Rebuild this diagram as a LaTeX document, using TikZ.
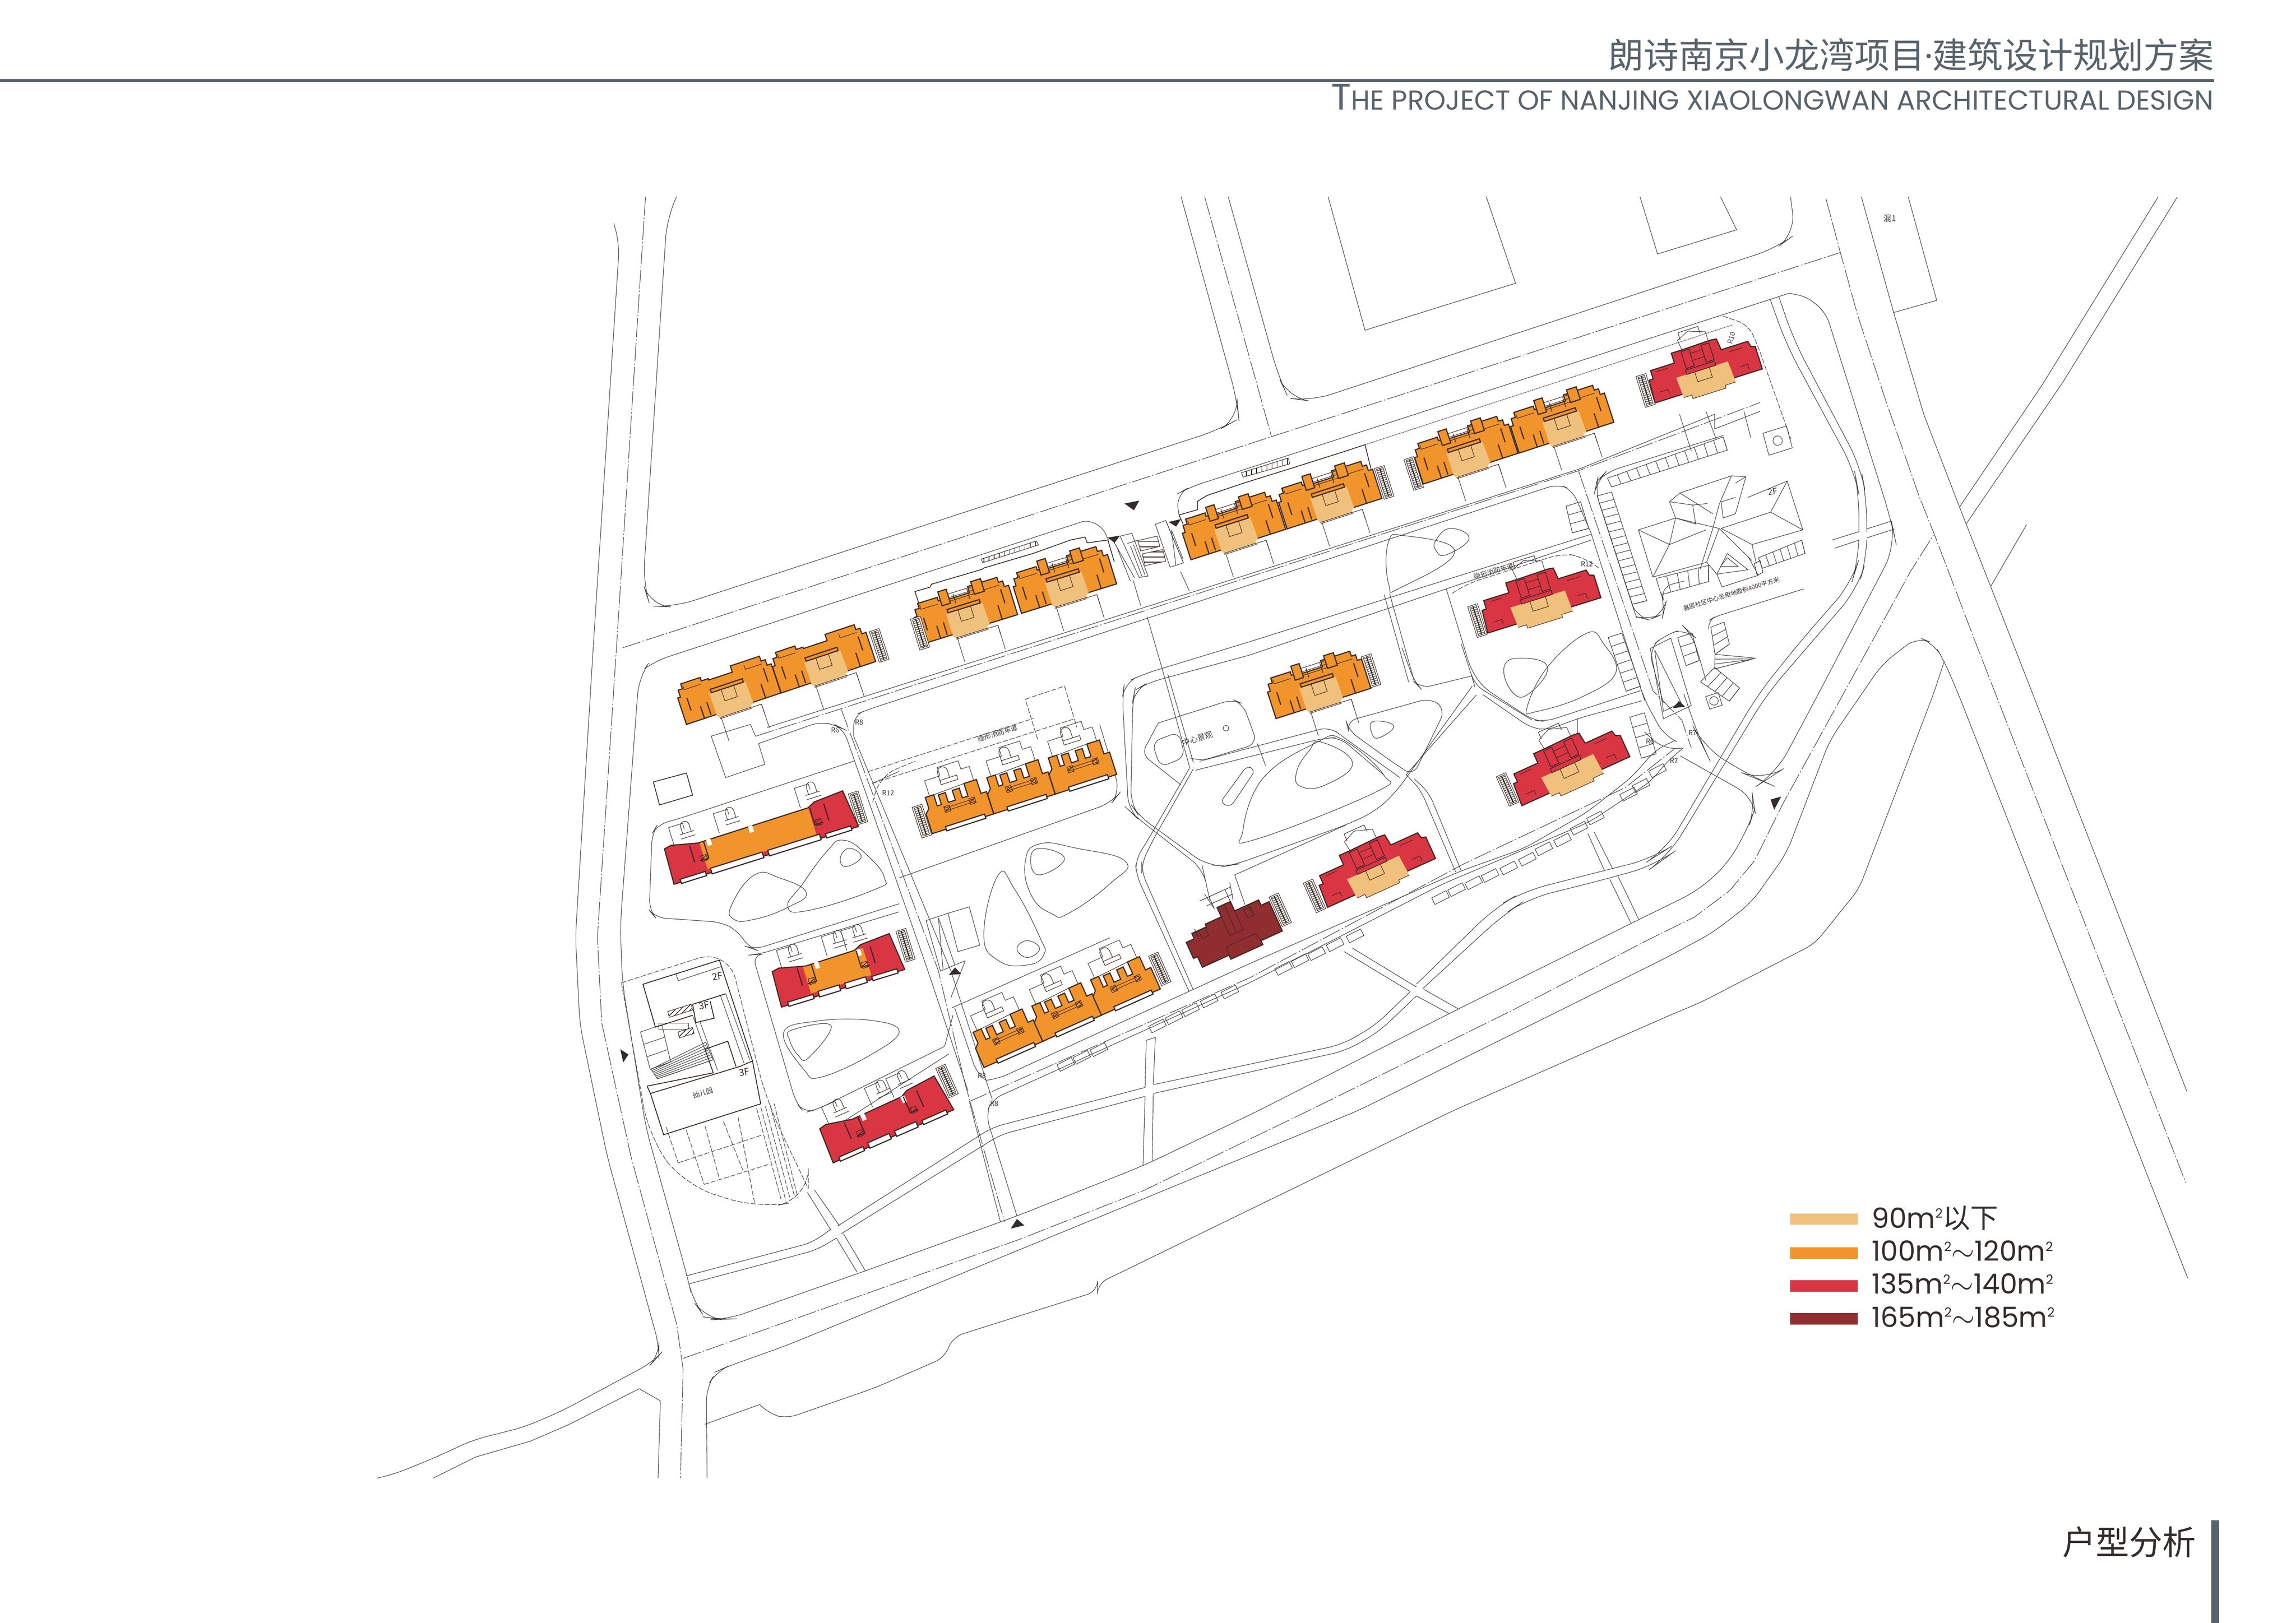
\documentclass[tikz,border=0pt]{standalone}
\usepackage{fontspec}
\setmainfont{Poppins}
\newfontfamily\cjk{Noto Sans CJK SC}
\usetikzlibrary{calc,patterns}

\definecolor{linecol}{HTML}{3C3C3C}
\definecolor{wallcol}{HTML}{3A2A22}
\definecolor{inkcol}{HTML}{332C2B}
\definecolor{slatecol}{HTML}{56636A}
\definecolor{lightflat}{HTML}{F0C17C}
\definecolor{orangeflat}{HTML}{F0942B}
\definecolor{redflat}{HTML}{D93543}
\definecolor{darkflat}{HTML}{8F2D31}

\newcommand{\sqm}{\raisebox{.36em}{\fontsize{7.5}{8}\selectfont 2}}

\tikzset{
  road/.style={draw=linecol,line width=.3pt},
  axis/.style={road,dash pattern=on 11pt off 1.2pt on .8pt off 1.2pt},
  fence/.style={road,dash pattern=on 3pt off 1pt},
  wall/.style={draw=wallcol,line width=.65pt},
  thinwall/.style={draw=wallcol,line width=.3pt},
  tag/.style={inner sep=0pt,text=inkcol,font=\cjk\fontsize{4}{4.5}\selectfont},
  arrowmark/.style={fill=inkcol,draw=none},
  bldg/.style args={#1,#2,#3}{shift={(#1,#2)},rotate=#3,yscale=-1},
  stairs/.pic={
    \draw[thinwall,fill=white] (0,0) rectangle (7,22);
    \draw[thinwall] (1.2,1) rectangle (3.3,21) (3.7,1) rectangle (5.8,21);
    \foreach \v in {2,3.5,...,20} \draw[thinwall] (1.2,\v)--(5.8,\v);
  },
  slotbox/.pic={
    \draw[road] (0,0) rectangle (11,5);
  },
  % the paired flat with the light centre bay
  flatunit/.pic={
    \draw[road] (24,-3)--(24,-20) (53,-3)--(53,-20);
    \draw[thinwall] (46,-3)--(53,-3)--(53,-10);
    \draw[wall,fill=orangeflat] (0,0)--(0,19)--(2,19)--(2,24)--(5,24)--(5,27.5)--(19,27.5)--(19,25)--(24,25)
      --(24,24)--(41,24)--(41,28.5)--(62,28.5)--(62,25)--(65,25)--(65,21)--(68,21)--(68,0)--cycle;
    \fill[lightflat] (21.5,15)--(47.5,15)--(48,-1)--(46,-1)--(46,-2.8)--(23,-2.8)--(21.6,-1)--cycle;
    \draw[thinwall] (23,-2.8)--(46,-2.8) (23,-3.6)--(46,-3.6);
    \draw[thinwall] (30,15)--(30,7)--(39,7)--(39,15);
    \draw[wall,fill=orangeflat] (23,15.2) rectangle (46,17.6);
    \draw[wall] (13,0)--(13,9) (57,0)--(57,10) (18,1)--(18,10) (6,8)--(6,17) (62,10)--(62,20);
    \draw[thinwall] (6,26)--(6,23)--(18,23) (50,26)--(50,23)--(62,23);
  },
  flattower/.pic={
    \draw[wall,fill=orangeflat] (20.5,21) rectangle (26.5,31);
    \draw[wall,fill=orangeflat] (44,22) rectangle (51,31);
    \draw[thinwall] (26.5,22.5)--(44,22.5) (26.5,25)--(44,25) (26.5,27.5)--(44,27.5);
    \draw[wall,line width=.4pt] (30,20)--(30,26.5) (40,20)--(40,27);
  },
  % three bay row with the teeth on the north side
  rowunit/.pic={
    \draw[road] (6,25)--(6,36)--(17,36)--(17,42)--(32,42)--(32,36)--(38,36)--(38,25);
    \draw[thinwall] (16,30) rectangle (28,33) (16,33)--(16,38) arc (180:0:3.5)--(23,33);
    \draw[wall,fill=orangeflat] (0,0)--(0,14)--(3,17)--(3,25)--(9,25)--(9,17)--(12,17)--(12,24)
      --(17,24)--(17,17)--(22,17)--(22,24)--(27,24)--(27,17)--(31,17)--(31,26)--(40,26)--(40,16)
      --(44,16)--(44,0)--cycle;
    \draw[thinwall] (9,25)--(31,26);
    \draw[thinwall] (14,12) rectangle (34,14);
    \draw[thinwall,pattern=north east lines,pattern color=wallcol] (13,11) rectangle (17,15) (31,11) rectangle (35,15);
    \draw[wall,fill=white] (10,-1.2) rectangle (38,1.8);
  },
  % broad plan with the light bay, drawn in red
  widered/.pic={
    \draw[wall,fill=redflat] (0,0)--(1,16)--(4,16)--(4,22)--(22,22)--(22,29)--(30,29)--(52,29.5)
      --(56,29)--(57,21)--(77,21)--(78,17)--(81,16)--(81,0)--cycle;
    \fill[lightflat] (20,12)--(59,12)--(60,-3)--(52,-3)--(52,-5)--(27,-5)--(27,-2.5)--(21,-2.5)--cycle;
    \draw[thinwall] (60,-3)--(52,-3)--(52,-5)--(27,-5)--(27,-2.5)--(21,-2.5);
    \draw[wall,line width=.4pt] (28,12) rectangle (50,15);
    \draw[thinwall] (34,12)--(34,5)--(45,5)--(45,12);
    \draw[wall,line width=.4pt] (29,16) rectangle (35,28) (44,16) rectangle (50,28);
    \draw[thinwall] (35,20)--(44,20) (35,25)--(44,25);
    \draw[thinwall] (8,20)--(16,20) (62,18)--(72,18) (6,6)--(12,6)--(12,3) (66,6)--(72,6)--(72,2);
    \draw[road] (30,29)--(29,36)--(38,40)--(50,36)--(50,29);
    \draw[thinwall] (31,36)--(31,41)--(46,41)--(46,36);
  },
  widedark/.pic={
    \draw[wall,fill=darkflat] (0,0)--(0,8)--(-3,8)--(-3,20)--(3,20)--(3,24)--(14,24)--(14,26)--(26,26)
      --(26,33)--(36,33)--(36,26)--(54,26)--(54,22)--(60,22)--(60,0)--(44,0)--(44,-3)--(20,-3)--(20,0)--cycle;
    \draw[thinwall] (20,1)--(21,6)--(42,6)--(44,1) (6,20)--(6,26) (46,20)--(46,26);
    \draw[thinwall] (26,12) rectangle (36,33) (31,12)--(31,33) (8,18) rectangle (13,24) (42,18) rectangle (47,24);
    \draw[road] (24,33)--(22,45) (38,33)--(41,45);
    \draw[thinwall] (20,37)--(40,37) (17,42)--(40,42) (24,33)--(24,42) (36,33)--(36,42);
  }
}

\newcommand{\parkrow}[5]{%
  \draw[road] (#1)--(#2)--(#3)--(#4)--cycle;
  \foreach \i in {1,...,#5} \draw[road] ($(#1)!\i/#5!(#2)$)--($(#4)!\i/#5!(#3)$);
}

% long slab: x, y, angle, length, start and end of the orange part
\newcommand{\slabblock}[6]{%
  \begin{scope}[bldg={#1,#2,#3}]
    \foreach \u in {14,46,{#4-28}} {
      \draw[road] (\u-6,24)--(\u-6,38)--(\u+4,38)--(\u+4,34);
      \draw[thinwall] (\u,28)--(\u+10,28) (\u,31)--(\u+10,31) (\u+2,31)--(\u+2,36) arc (180:0:3)--(\u+8,31);
    }
    \fill[redflat] (0,0)--(1,25)--(6,26)--(24,22)--({#4-29},22.5)--({#4-24},25)--({#4-3},26.5)--(#4,0)--cycle;
    \ifdim #6pt>#5pt \fill[orangeflat] (#5,3) rectangle (#6,22.4); \fi
    \draw[wall] (0,0)--(1,25)--(6,26)--(24,22)--({#4-29},22.5)--({#4-24},25)--({#4-3},26.5)--(#4,0)--cycle;
    \draw[wall,fill=white] (5,-1) rectangle (23,2) (27,-1) rectangle ({#4/2-2},3) ({#4/2+2},-1) rectangle ({#4-27},3) ({#4-23},-1) rectangle ({#4-5},2);
    \fill[white] (30,18) rectangle (33,22.5) (60,18) rectangle (63,22.5);
    \draw[wall] (18,10)--(18,22) (22,10)--(28,10)--(28,22) ({#4-18},10)--({#4-18},22) ({#4-22},10)--({#4-28},10)--({#4-28},22);
    \draw[thinwall,pattern=north east lines,pattern color=wallcol] (23,9) rectangle (27,13) ({#4-27},9) rectangle ({#4-23},13);
  \end{scope}
}

\begin{document}
\begin{tikzpicture}[x=0.3mm,y=-0.3mm]
  \useasboundingbox (0,0) rectangle (1568,1108.7);

  % header and page mark
  \fill[slatecol] (0,54) rectangle (1512,55.8);
  \node[anchor=base east,inner sep=0pt,text=slatecol,font=\cjk\fontsize{20.5}{21}\selectfont] (titlecn) at (1512,46.5) {朗诗南京小龙湾项目{\rmfamily ·}建筑设计规划方案};
  \node[anchor=base east,inner sep=0pt,text=slatecol,font=\fontsize{16}{16}\selectfont] (titleen) at (1512,75) {{\fontsize{21.5}{16}\selectfont T}HE PROJECT OF NANJING XIAOLONGWAN ARCHITECTURAL DESIGN};
  \fill[slatecol] (1510,1038.5) rectangle (1515.5,1108.7);
  \node[anchor=base east,inner sep=0pt,text=inkcol,font=\cjk\fontsize{19.5}{20}\selectfont] (pagename) at (1500,1062) {户型分析};

  % legend
  \fill[lightflat] (1222.4,829) rectangle (1268.8,836.5);
  \fill[orangeflat] (1222.4,852) rectangle (1268.8,860);
  \fill[redflat] (1222.4,874.5) rectangle (1268.8,882.5);
  \fill[darkflat] (1222.4,897) rectangle (1268.8,905);
  \tikzset{legendtext/.style={anchor=base west,inner sep=0pt,text=inkcol,font=\fontsize{16.2}{16}\selectfont}}
  \node[legendtext] (area1) at (1278,839) {90m\sqm{\cjk 以下}};
  \node[legendtext] (area2) at (1278,861.5) {100m\sqm$\sim$120m\sqm};
  \node[legendtext] (area3) at (1278,884) {135m\sqm$\sim$140m\sqm};
  \node[legendtext] (area4) at (1278,906.5) {165m\sqm$\sim$185m\sqm};

  % west road
  \draw[road,rounded corners=8pt] (419.2,152.6)--(423,166.7)--(405.1,442.5)--(393,640)--(396,700)--(414.7,790)--(450,919)--(450,926)--(446,930.4)--(384.5,963.5)--(358.3,974.8)--(323,983.7)--(298.8,995)--(269.6,1007)--(257.5,1009.8);
  \draw[axis] (440.8,134.5)--(421,442.5)--(408,640)--(410.9,698.6)--(430.9,790.1)--(462.1,904.6)--(466.5,935.3)--(464.7,1009.8);
  \draw[road] (295.8,1009.8)--(325,995.3)--(362.3,984.5)--(388.5,973.2)--(436.5,948.7)--(451,957)--(449.4,1009.8);
  \draw[road,rounded corners=12pt] (462,134.5)--(455.5,148.6)--(439.2,398.6)--(444,414)--(460,414.7)--(695.4,338)--(832.4,293.7)--(846,286)--(844.9,273.6)--(806.6,134.5);

  % north road and the cross road
  \draw[axis] (425.3,442.5)--(868.7,298.2)--(1256.8,172.5);
  \draw[axis] (822.7,134.5)--(868.3,298.2);
  \draw[road,rounded corners=12pt] (838.8,134.5)--(873.1,257.4)--(880,272)--(895,274)--(1213,169.5)--(1226,160)--(1222.8,134.6);
  \draw[road] (907,134.5)--(932.2,225.6)--(1035,193.5)--(1015,134.5);
  \draw[road] (1120,134.5)--(1132,173.5)--(1186,157)--(1175,134.5);
  \draw[road] (475.1,442.5)--(739.7,356.2);
  \draw[road,rounded corners=8pt] (739.7,356.2)--(751,356)--(757,369);
  \draw[road,rounded corners=8pt] (805.2,351.8)--(803,338)--(812,333)--(1222,200.3);
  \draw[road,rounded corners=14pt] (1222,200.3)--(1244.3,205)--(1291.7,356)--(1295,372)--(1241.8,474.1)--(1212.8,528.5)--(1204.3,534)--(1197,531)--(1163.2,510.4)--(1160.8,505.5)--(1149.9,474.1);
  \draw[road,rounded corners=8pt] (440.5,456.6)--(447.6,451.5)--(475.1,442.5);
  \draw[road,rounded corners=10pt] (440.5,456.6)--(436.3,462.6)--(423.6,632)--(425,671)--(441,770)--(446.6,790.1)--(469.2,871.6)--(473.2,888.5)--(481.3,899.8)--(491.4,901.4)--(497,901.2)--(591.5,868)--(694.5,830.7)--(780.6,796.4)--(857,760)--(995.5,689.5)--(1119.7,628)--(1159.6,608.4)--(1180,590)--(1194.7,563.6)--(1198.3,552.7)--(1197,544.3)--(1147.5,516.4);

  % south road and the edge of the plot
  \draw[axis] (466.5,928)--(695.9,846.8)--(780.6,813.5)--(894,758.6)--(1032.2,690.5)--(1125.4,642.1)--(1157.2,626.5)--(1181.3,608.4)--(1198.3,587.8)--(1217.6,549)--(1258.8,474.1)--(1279.6,436.2)--(1304.8,390.2)--(1320.3,365.7);
  \draw[road,rounded corners=8pt] (482.9,1009.8)--(482.3,948.2)--(489.3,936.9)--(496.4,933.7)--(537.3,919.1)--(927.8,758.6)--(1137.8,654.3)--(1169.2,637.4)--(1195.9,616.8)--(1220,583)--(1249.6,505.7)--(1285.4,453.7)--(1309.4,435.1)--(1320.7,439.6)--(1327.8,451.7)--(1337.4,474.1)--(1494,873);
  \draw[road] (481.3,973)--(518.8,959.5);
  \draw[road,rounded corners=6pt] (518.8,959.5)--(525.6,965.9)--(537.3,969)--(597.2,948.2)--(645.1,927.4)--(650.8,913.3)--(749.5,882.1)--(749.5,877)--(992.7,758.6)--(1137.8,694.7)--(1162,684.5)--(1239.4,644.6)--(1269.6,607.1)--(1320.4,474.1)--(1327.8,451.7);

  % east road and the branch
  \draw[axis] (1247,135.8)--(1256.8,172.5)--(1268.5,214.9)--(1287.7,273.3)--(1310.9,339.8)--(1321,365)--(1348,436)--(1362.8,474)--(1492.7,808);
  \draw[road] (1271.2,134.6)--(1293.3,213.8)--(1313.9,283.4)--(1338,345.9)--(1359.3,400.3)--(1373.4,436.2)--(1388.2,474.1)--(1493.4,745.5);
  \draw[road] (1303.2,134.6)--(1322.6,205.2)--(1293.3,213.5);
  \node[tag,font=\cjk\fontsize{4.8}{5}\selectfont] (blockname) at (1290.7,149.3) {混1};
  \draw[road] (1473.8,134.6)--(1394.5,263.2)--(1338.5,345.9);
  \draw[road] (1486.9,134.6)--(1408.7,261.2)--(1342.7,358);
  \draw[road] (1384,358.4)--(1359.7,400.3);
  \draw[road,rounded corners=14pt] (1209,204.8)--(1220.2,236)--(1266.5,321.7)--(1269.5,337.8)--(1269.5,382.2)--(1264.5,398.3)--(1231.2,436.2)--(1200.7,474.1)--(1137.8,580.5)--(1128.2,586.6)--(1095.7,594.7)--(1040.7,608.8)--(1021,620)--(967.3,672.3);
  \draw[road,rounded corners=14pt] (1214.7,202.4)--(1224.8,232)--(1270.6,318.7)--(1274.6,339.9)--(1275.2,380.2)--(1268.5,402.4)--(1239.3,436.2)--(1206.7,474.1)--(1139.5,584.6)--(1131,590.7)--(1098.6,600.1)--(1043.5,613.9)--(1026.6,624.9)--(971.6,675.4);
  \fill[white] (1268.5,363.6) rectangle (1276,368.6);
  \draw[road] (1251,369)--(1269.5,363.2) (1275,361.3)--(1291.7,356) (1253,374.5)--(1269.5,369) (1275,367.4)--(1293.7,361.4);

  % the lines south of the site road
  \draw[road,rounded corners=8pt] (963.1,677.4)--(939.1,700.5)--(916.5,713.6)--(788.1,740.9);
  \draw[road,rounded corners=8pt] (967.3,680.4)--(941.9,704.6)--(919.4,717.7)--(788.1,746.9);
  \draw[road] (917.9,650.1)--(963.1,677.4) (923.6,647.7)--(967.3,674.3) (967.3,680.4)--(989.9,692.5) (972.4,675.9)--(996.4,689.5);
  \draw[road] (1084.4,569.5)--(1095.7,594.7) (1088.7,568.5)--(1101.4,593.7) (1099.4,600.8)--(1114,631) (1105,598.7)--(1119.1,628);
  \draw[road] (782.8,710.7)--(789,708.7)--(787.6,741) (782.8,710.7)--(782,742.9) (782,749)--(780.6,796.4) (787.6,746.9)--(786.8,793.4);
  \draw[road,rounded corners=6pt] (782,742.9)--(677.6,770.2)--(571.8,837.7);
  \draw[road,rounded corners=6pt] (782,749)--(683.2,775.2)--(574.6,842.8);
  \draw[road,rounded corners=6pt] (567.5,839.7)--(554.8,848.8)--(468.7,871.6);
  \draw[road,rounded corners=6pt] (571.2,845.8)--(557.6,853.9)--(471,877);
  \draw[road] (556.2,812.9)--(573.2,837.3) (551.4,814.6)--(567.5,840.4) (571.2,845.8)--(585.3,869) (576,842.8)--(590.9,868);

  % site road with its centre line
  \draw[road] (523.8,497)--(1078,320.6)--(1171,283);
  \draw[axis] (516,503)--(1078,321.6)--(1202,275);
  \draw[road,rounded corners=6pt] (518,508)--(560.5,492.9)--(571.8,495.9)--(576,498)--(633.8,663.5)--(661,745);
  \draw[road,rounded corners=6pt] (583,503)--(583,488.8)--(592,485)--(1063.9,330.7)--(1073.8,334.8)--(1086.5,364);
  \draw[axis] (574.6,484.8)--(640.9,663.4)--(659.2,741)--(686,834.7);
  \draw[road] (583,503)--(649.4,663.4);
  \draw[road,rounded corners=6pt] (649.4,663.4)--(677.6,751);
  \draw[road] (662,752.5)--(683.2,834.7) (675.6,769.2)--(694.5,830.7);
  \draw[road,rounded corners=6pt] (675.6,769.2)--(673.4,761)--(677.6,751)--(853.4,671.4)--(985,604)--(1085.8,561.4)--(1128.2,533.2)--(1136.7,522.1)--(1149.4,511);
  \draw[axis] (662,752.5)--(853.4,668)--(1000,590)--(1110,538)--(1143,512);
  \draw[road,rounded corners=6pt] (673.4,738)--(681.8,736.9)--(853.4,658.3)--(998.4,594.7)--(1040.7,579.6)--(1083,555.4)--(1114,531.2)--(1131,512)--(1143.7,506);
  \draw[road,rounded corners=6pt] (673.4,738)--(667,733)--(652,688.5);

  % inner paths of the central garden
  \draw[road,rounded corners=8pt] (853.4,438.4)--(780.6,460.6)--(767.9,466.6)--(766.5,476.7)--(770.7,553.3)--(775,557.4)--(821.5,593.7)--(822.9,600)--(826.2,614.9);
  \draw[road,rounded corners=8pt] (853.4,447.5)--(783.4,466.6)--(774.9,471.7)--(773.6,478.7)--(772.2,549.3)--(777.8,557.4)--(823.4,590.7)--(837.5,591.7)--(843.2,590.7)--(919.4,563.5)--(939.1,554.4)--(953.2,541.3)--(1005.4,468.7);
  \draw[road] (853.4,438.4)--(1086.5,365) (853.4,447.5)--(1086.5,369);
  \draw[road] (1008.2,474.8)--(960.3,529.2);
  \draw[road,rounded corners=6pt] (960.3,529.2)--(970.1,539.3)--(994.1,595.7);
  \draw[road,rounded corners=6pt] (965.9,532.2)--(975.8,541.3)--(997.8,594.7);
  \draw[road] (843.2,597.7)--(850.2,617.9) (843.2,597.7)--(919.4,563.5);
  \draw[road,rounded corners=6pt] (812.1,525.2)--(785.3,571.5)--(775.4,587.6)--(776,597.7)--(812.1,677.4);
  \draw[road,rounded corners=6pt] (815,525.2)--(788.1,572.5)--(779.7,589.7)--(779.7,595.7)--(815,676.4);
  \draw[road] (783.4,421.3)--(793.3,455.6)--(812.7,525.1) (797.5,460.6)--(815,521);
  \draw[road,rounded corners=6pt] (819.2,520.1)--(908,496.5)--(918,504)--(956,531.2);
  \draw[road,rounded corners=6pt] (816.4,526.2)--(905.2,504)--(915.1,504)--(944.8,529.2);
  \draw[road,rounded corners=6pt] (791,493.9)--(841.7,477.8)--(848.8,480.8)--(858.7,508)--(819.2,520.1)--(813.5,518.1);
  \draw[road,rounded corners=5pt] (791,493.9)--(779.7,515.1)--(806.5,536.2);
  \draw[road] (858.7,508)--(864.3,523.1);
  \draw[road,rounded corners=5pt] (786.7,507)--(805,500)--(809.3,517.1)--(792.4,524.1)--cycle;
  \draw[road,rounded corners=3pt] (833.3,548.3)--(851.6,523.1)--(857.3,526.2)--(840.3,551.4)--cycle;
  \node[circle,draw=linecol,line width=.3pt,minimum size=3.2pt,inner sep=0pt] (pond) at (837.2,497.5) {};
  \node[tag,rotate=17,font=\cjk\fontsize{4.6}{5}\selectfont,text=linecol] (garden) at (817.8,504.5) {中心景观};

  % pairs to the east of the garden
  \draw[road,rounded corners=6pt] (957.4,442.5)--(966,466)--(970.2,470.3)--(1005.4,461.7);
  \draw[road,rounded corners=6pt] (949,405.6)--(966,466);
  \draw[road,rounded corners=6pt] (945.3,406.2)--(962,466);
  \draw[road,rounded corners=6pt] (987.7,402.3)--(1004.6,457.7)--(1013.1,469.8)--(1047,492)--(1055.4,493)--(1120.3,471.8);
  \draw[road,rounded corners=6pt] (998,440)--(1005.4,462.7)--(1006.8,467.7)--(1046.3,491.9);
  \draw[road,rounded corners=6pt] (1012.5,474.4)--(1044.9,496.9)--(1056.2,499)--(1077.4,490.9)--(1121.1,478.8);
  \draw[road,rounded corners=6pt] (1077.4,490.9)--(1077.4,501);
  \draw[fence,rounded corners=8pt] (991.9,405.3)--(1000.4,399.3)--(1066.7,378.1)--(1080.8,380.1)--(1092.1,388.2);

  % pocket and the road by the community centre
  \draw[axis] (1078,321.6)--(1128.8,471.8)--(1148.6,492)--(1155,511);
  \draw[road,rounded corners=8pt] (1176.8,297.5)--(1096.4,322.7)--(1090.7,328.7)--(1089.3,334.8)--(1114.7,413.4)--(1117.5,421.4)--(1126,423.5)--(1135.9,419.4)--(1137.3,413.4)--(1133,401.3)--(1150,397);
  \draw[road,rounded corners=8pt] (1086.5,364)--(1120.3,469.8)--(1123,477.9)--(1136.7,503)--(1143.7,506);
  \draw[road,rounded corners=8pt] (1123,500)--(1136,512)--(1149.4,511);
  \draw[road,rounded corners=8pt] (1135.9,479.9)--(1125.7,443.6)--(1137,433.5)--(1151.4,429.5)--(1155.6,433.5)--(1161.3,451.7)--(1165,465);
  \draw[road] (1127,443)--(1141,436)--(1155,482)--(1136,491)--cycle;
  \draw[road] (1130,444)--(1136,486) (1130,444)--(1148,480) (1136,486)--(1148,480);
  \draw[road,rounded corners=4pt] (1166.9,430)--(1166.9,424)--(1171,421.4)--(1231.8,402.3);

  % parking rows
  \parkrow{1097.8,326.7}{1176.8,298.5}{1179.6,307.5}{1100.6,332.7}{12}
  \parkrow{1090.7,338.8}{1114.7,412.8}{1124.6,410.4}{1100.6,336.2}{15}
  \parkrow{1131,395.2}{1166.9,386.2}{1166.9,397.3}{1134.5,406.3}{5}
  \parkrow{1200.8,381.1}{1230.4,369}{1232.7,378.1}{1203.6,388.2}{6}
  \parkrow{1069.5,345.8}{1073.8,364}{1085,361}{1079.4,342.8}{3}
  \parkrow{1098.3,435.5}{1110.5,472.2}{1120.3,468.8}{1107.6,432.5}{6}
  \parkrow{1145.7,435.6}{1151.4,454.7}{1160.4,451.3}{1155.6,432.5}{3}
  \parkrow{1168.4,428.5}{1171.2,447}{1181,440}{1177.4,425}{3}
  \parkrow{1171.2,447}{1171,457}{1194.2,451}{1198.7,449.6}{3}
  \parkrow{1161.3,465.8}{1181,479}{1188,470}{1171,456}{4}
  \parkrow{1113,490}{1121,518}{1131,515}{1123,487}{4}

  % community centre
  \draw[road] (1118.9,362)--(1144.3,353.9)--(1174,361)--(1165.5,384.1)--(1128.8,394.2)--cycle;
  \draw[road] (1118.9,362)--(1140.1,372)--(1128.8,394.2) (1140.1,372)--(1144.3,353.9) (1140.1,372)--(1165,362);
  \draw[road] (1175.4,361)--(1209.2,349.9)--(1220.5,328.7)--(1231.2,362)--(1196.5,372)--cycle;
  \draw[road] (1193.7,339.8)--(1220.5,328.7) (1209.2,349.9)--(1231.2,362);
  \draw[road] (1147.2,336.8)--(1182.4,325.1)--(1174,344.8)--(1169.7,361);
  \draw[road] (1140.1,342.8)--(1147.2,336.8)--(1169.7,351) (1140.1,342.8)--(1144.3,353.9)--(1158,358)--(1156,345)--(1140.1,342.8) (1156,345)--(1166,344);
  \draw[road] (1182.4,325.1)--(1192.3,325.7)--(1185.2,350.9)--(1176.8,353.9)--(1175.4,342.8)--(1185.2,339.8) (1185.2,330)--(1192.3,325.7);
  \draw[road] (1172.5,392.2)--(1179.6,378.1)--(1193.7,389.2)--cycle (1175,387)--(1179.6,381)--(1187,387)--cycle;
  \draw[road] (1172.5,392.2)--(1176,401)--(1200.8,393)--(1193.7,380) (1196.5,372)--(1199.4,385);
  \draw[road] (1165.5,384.1)--(1172.5,392.2) (1174,361)--(1196.5,383) (1169.7,361)--(1161,389);
  \draw[thinwall] (1198,385)--(1202,383)--(1204,391)--(1200,393)--cycle;
  \node[tag,rotate=10,font=\cjk\fontsize{5}{6}\selectfont] (floorb) at (1210.6,335.8) {2F};
  \node[tag,rotate=17,font=\cjk\fontsize{3.6}{4}\selectfont] (centrenote) at (1182.4,405.7) {基层社区中心总用地面积4000平方米};
  \draw[road] (1204,296)--(1220,291)--(1224,306)--(1208,311)--cycle;
  \node[circle,draw=linecol,line width=.3pt,minimum size=5.5pt,inner sep=0pt] (wellhead) at (1214,301) {};
  \draw[fence,rounded corners=6pt] (1176.8,216)--(1194,222)--(1200,235)--(1223,300);
  \draw[road] (1191,281)--(1195.6,299) (1171,283)--(1171,293)--(1202,281) (1147,283)--(1155,308) (1165,281)--(1172,300);
  \node[circle,draw=linecol,line width=.3pt,minimum size=5pt,inner sep=0pt] (roundabout) at (1170.5,478.8) {};
  \draw[road,rotate around={18:(1170.5,478.8)}] (1166,474.3) rectangle (1175,483.3);

  % slots along the site road
  \foreach \sx/\sy in {786.7/705.6,798/700,809.3/694.5,822/688.5,836.1/682.4,872.8/666.3,884/661,895.4/656.2,908/650.1,921.6/644.1,980/617.9,991/612.5,1002.6/607.8,1013.9/602.8,1026.6/597.7,1039.3/591.7,1050.6/584.6,1063.3/578.6,1074.6/570.5,1085.8/563.5,1108.4/547.3,1116.9/541.3,1128.2/531.2,724.1/731.9,735/727,746.7/721.8}
    \pic[bldg={\sx,\sy,27}] {slotbox};

  % fire lane and squares to the west
  \draw[fence] (592.9,527.1)--(705.8,490.8) (595.7,535.2)--(734,491);
  \draw[fence] (700.2,477.7)--(727,468.7)--(735.4,496.9) (708.6,505)--(700.2,477.7);
  \draw[wall,line width=.45pt] (446.2,534.2)--(468.8,528.1)--(473,543.2)--(450.4,549.9)--cycle;
  \draw[road] (516,503)--(512.5,494.9)--(485.7,502.9)--(495.6,531.2)--(522.4,522.1)--(518,508);
  \draw[road,rounded corners=6pt] (583,520)--(464.5,559)--(449,563.4)--(445.3,569.5)--(443.4,621.9)--(447.6,626.9)--(492.7,630)--(504,636)--(511.1,647.2)--(515.3,648.6)--(614.1,617.4);
  \draw[road,rounded corners=6pt] (614.1,622.9)--(518,652)--(513.9,652.3)--(543.5,753.1)--(549.2,760.1)--(557.6,758.1)--(645.1,714.8);
  \draw[road] (650.8,693.6)--(645.1,714.8) (648,720)--(570,770);
  \draw[road,rounded corners=8pt] (614.1,599.7)--(759.4,548.3)--(765,541.2)--(751,495);
  \draw[road] (595.7,535.2)--(614,527);
  \draw[fence,rounded corners=10pt] (596,548)--(601,530)--(625,520);
  \draw[road] (650.2,688.5)--(758,640.6);
  \draw[road,rounded corners=6pt] (649.4,681.5)--(659.2,656.3);
  \draw[road] (632.4,628.9)--(647.4,623.9)--(662,619.5)--(669.1,645.7)--(654.2,650.1)--(647.4,623.9);
  \draw[road] (632.4,628.9)--(642.3,663.4)--(659.2,656.3) (640.9,627)--(644,662) (640.9,627)--(652,659);

  % green patches
  \draw[road] plot[smooth cycle,tension=.8] coordinates {(564.7,581.6) (576,574) (591.5,583.6) (604,599.7) (597,607.8) (552,622) (538,619) (548,604)};
  \draw[road] plot[smooth cycle,tension=.8] coordinates {(580.2,579.5) (588.1,585.6) (577.4,592) (574,585.6)};
  \draw[road] plot[smooth cycle,tension=.8] coordinates {(499.8,617.9) (515.3,597.7) (532.2,599.7) (550.6,609.8) (537.9,619.9) (515.3,628) (501.2,628)};
  \draw[road] plot[smooth cycle,tension=.8] coordinates {(700.2,588.6) (710,576.5) (735.4,579.5) (768.7,588.6) (758,603.7) (729.8,623.9) (718.5,624.3) (704.4,611.8)};
  \draw[road] plot[smooth cycle,tension=.8] coordinates {(710,579.5) (727,586.6) (710,597.7) (703.8,587.6)};
  \draw[road] plot[smooth cycle,tension=.8] coordinates {(681.8,597.7) (693.1,607.8) (710,640) (712.9,652.1) (701.6,659.2) (681.8,656.2) (671.9,638)};
  \draw[road] plot[smooth cycle,tension=.8] coordinates {(701.6,642.6) (710,648.1) (701.6,654.1) (694.5,648.1)};
  \draw[road] plot[smooth cycle,tension=.7] coordinates {(535.1,705.7) (557.6,697.6) (594.3,697) (614.1,704.7) (594.3,720.8) (560.5,735.9) (549.2,730.9)};
  \draw[road] plot[smooth cycle,tension=.7] coordinates {(540.7,703.7) (567.5,700.6) (552,722.8) (545,720.8) (539.3,710.7)};
  \draw[road] plot[smooth cycle,tension=.7] coordinates {(848.8,567.5) (862.9,531.2) (899.6,507) (916.5,505) (944.8,529.2) (939.1,541.3) (857.3,573.5)};
  \draw[road] plot[smooth cycle,tension=.8] coordinates {(885.5,527.2) (893.9,513.1) (902.4,507) (923.6,521.1) (905.2,536.2) (888.3,537.2)};
  \draw[road] plot[smooth cycle,tension=.8] coordinates {(937.7,492.9) (951.8,495.9) (941.9,504) (936.9,501)};
  \draw[road,rounded corners=6pt] (919.4,492.9)--(977.2,476.8)--(987.1,484.8)--(965,530)--(950,520)--(920.8,498.9)--cycle;
  \draw[road] plot[smooth cycle,tension=.8] coordinates {(1027.2,455.7) (1038.5,449.6) (1056.8,455.7) (1044.1,473.9) (1032.9,472.9)};
  \draw[road] plot[smooth cycle,tension=.7] coordinates {(1042.7,483.9) (1056.8,455.7) (1083.7,432.5) (1095,439.6) (1103.4,459.7) (1080.8,475.9) (1049.8,486)};
  \draw[road] plot[smooth cycle,tension=.8] coordinates {(948,371) (959.5,366) (993.4,377.1) (956.7,401.3) (948.4,399.3)};
  \draw[road] plot[smooth cycle,tension=.8] coordinates {(980.7,369) (990.5,361) (1003.2,368) (987.7,379) (980.7,376)};

  % kindergarten with its dashed yard
  \draw[fence,rounded corners=18pt] (424.4,671.4)--(497,648.2)--(523.8,753)--(552,812) (424.4,671.4)--(443.4,777.3)--(467.3,809.5)--(518.1,825.6)--(552,819.6)--(552,812);
  \draw[fence] (463.1,794.4)--(521,775.2) (480.9,809.1)--(525.2,795.4);
  \draw[fence] (455,770)--(463.1,794.4) (468.7,772.2)--(480.9,809.1) (481.5,769.2)--(491.3,805.5) (494.1,766.2)--(507.3,799.4) (504,763.1)--(515.3,821.6);
  \draw[fence] (516.7,757.1)--(533.7,820.6) (519.6,756.5)--(536.6,820) (522.7,755.7)--(539.7,819.4) (525.8,754.5)--(543,818.8) (528.7,754)--(545,818.6);
  \draw[wall,line width=.5pt] (444.2,747)--(487.7,733.9)--(505.4,728.5)--(513.9,724.8)--(519.5,754.1)--(453.2,775.2)--cycle;
  \draw[wall,line width=.5pt] (441.9,742)--(444.2,747) (441.9,742)--(487.1,732.9)--(481.5,716.8)--(497,711.3)--(502.6,728.5) (513.9,724.8)--(491.3,655.9)--(439.1,672.4)--(447.6,701.7)--(473,693.6);
  \draw[road] (461.7,665.4)--(463.1,670)--(492.7,660.3);
  \draw[wall,line width=.5pt] (473,686.1)--(495.6,678.9) (473,686.1)--(475.2,698.6)--(487.7,695.6)--(485,684);
  \draw[road] (495.6,678.9)--(512,724) (492,680)--(508,726);
  \draw[road] (473,693.6)--(487.1,732.9) (478,698)--(490,731);
  \parkrow{437.4,705}{444,730.5}{458,725.5}{452,700}{3}
  \parkrow{444.6,730.5}{449,737}{487,724}{482,712}{7}
  \draw[thinwall] (450,699) rectangle (470,703);
  \draw[thinwall,pattern=north east lines,pattern color=wallcol] (456,691) -- (472,686)--(473,690)--(457,695)--cycle;
  \draw[thinwall,pattern=north east lines,pattern color=wallcol] (463,705)--(473,702)--(474,706)--(464,709)--cycle;
  \node[tag,rotate=17] (school) at (480,746.6) {幼儿园};
  \node[tag,rotate=10,font=\cjk\fontsize{5.5}{6}\selectfont] (floora) at (490,666.8) {2F};
  \node[tag,rotate=10,font=\cjk\fontsize{5.5}{6}\selectfont] (floorc) at (480.9,687) {3F};
  \node[tag,rotate=10,font=\cjk\fontsize{5.5}{6}\selectfont] (floord) at (508.3,732.3) {3F};

  % fences of the north row, gate and stairs
  \draw[wall,line width=.45pt] (629.6,418.3)--(624.8,404.1)--(635.2,401.1)--(636.1,399.1)--(670.5,389)--(672,388)--(705.8,378)--(731.2,368.9)--(741,366.9)--(742.5,370.9)--(756.6,368.9)--(761,384);
  \draw[thinwall,pattern=vertical lines,pattern color=wallcol] (670,382)--(707.8,369.5)--(709.2,372.3)--(671.1,384.4)--cycle;
  \draw[wall,line width=.45pt] (808,358)--(805.2,351.8)--(817.8,348.2)--(817.8,342.5)--(824.3,338.5)--(849.5,330)--(884.8,319)--(920.1,307.8)--(932.2,303.8)--(936.2,320);
  \draw[thinwall,pattern=vertical lines,pattern color=wallcol] (847.9,322.9)--(879.8,312.9)--(880.8,316.9)--(848.9,326)--cycle;
  \draw[road,dash pattern=on .8pt off .3pt] (932.2,303.8)--(1183,222);
  \draw[road] (764.9,366.3)--(772.9,364.3)--(784,393.5)--(778,394.5)--cycle;
  \draw[road] (769.9,371.3)--(777,369) (774,372)--(782,393) (772,373)--(780,394);
  \draw[road] (789,358.2)--(796.1,355.6)--(808.2,384.5)--(799.1,387.5)--cycle;
  \draw[road] (796.1,355.6)--(808.2,384.5) (800,362)--(808,382) (800,362)--(803,386);
  \draw[road] (760.5,370)--(775,395) (762,372)--(772,397);
  \draw[thinwall,pattern=horizontal lines,pattern color=wallcol] (777,369.3)--(790.1,366.3)--(792.1,373.3)--(779,376.4)--cycle;
  \draw[thinwall,pattern=horizontal lines,pattern color=wallcol] (780,378.4)--(794.1,375.4)--(796.1,383.4)--(782,386.4)--cycle;
  \draw[road] (806.2,390.5)--(812.2,403.6) (773.9,396.5)--(779,413.7);

  % buildings of the north row
  \pic[bldg={468.8,494.9,18.4}] {flatunit};
  \pic[bldg={533.5,473.4,18.4}] {flatunit};
  \pic[bldg={630,440,17.2}] {flatunit};
  \pic[bldg={630,440,17.2}] {flattower};
  \pic[bldg={697.6,419,17.2}] {flatunit};
  \pic[bldg={697.6,419,17.2}] {flattower};
  \pic[bldg={813.3,382.4,17.8}] {flatunit};
  \pic[bldg={813.3,382.4,17.8}] {flattower};
  \pic[bldg={879,361.3,17.8}] {flatunit};
  \pic[bldg={879,361.3,17.8}] {flattower};
  \pic[bldg={972,330.7,18}] {flatunit};
  \pic[bldg={972,330.7,18}] {flattower};
  \pic[bldg={1037.5,309.5,18}] {flatunit};
  \pic[bldg={1037.5,309.5,18}] {flattower};
  \pic[bldg={871.4,490.9,17.7}] {flatunit};
  \pic[bldg={871.4,490.9,17.7}] {flattower};
  \pic[bldg={600.5,452.5,18}] {stairs};
  \pic[bldg={628.2,444.1,17}] {stairs};
  \pic[bldg={945.3,341.1,17.8}] {stairs};
  \pic[bldg={965.5,335,17.8}] {stairs};
  \pic[bldg={936.3,469.7,17.7}] {stairs};

  % the red and dark red plans
  \pic[bldg={1130.2,275.3,17.6},xscale=.95] {widered};
  \pic[bldg={1016,432.5,17.4}] {widered};
  \pic[bldg={1039.3,550.4,24.4}] {widered};
  \pic[bldg={906.6,619.9,24.4}] {widered};
  \pic[bldg={821.1,660.8,24.4}] {widedark};
  \pic[bldg={1123.7,278.3,17}] {stairs};
  \pic[bldg={1008.9,435.5,17.4}] {stairs};
  \pic[bldg={1030.8,550.8,24}] {stairs};
  \pic[bldg={899,623.5,24}] {stairs};
  \pic[bldg={875.6,633,24}] {stairs};

  % rows and slabs
  \foreach \n in {0,1,2} {
    \pic[bldg={{636.7+\n*42},{569.5-\n*13.5},17.8}] {rowunit};
    \pic[bldg={{672+\n*40.1},{729.3-\n*17.9},24}] {rowunit};
  }
  \pic[bldg={629.6,572.5,17.8}] {stairs};
  \pic[bldg={793.3,673.4,24}] {stairs};
  \slabblock{460.3}{604.1}{17.4}{132}{25}{103}
  \slabblock{533.7}{688}{17}{88}{22}{65}
  \slabblock{569}{794.4}{23.8}{90}{0}{0}
  \pic[bldg={585.9,563.4,17.4}] {stairs};
  \pic[bldg={618.3,657.3,17}] {stairs};
  \pic[bldg={648,750,24}] {stairs};

  % driving arrows
  \fill[arrowmark] (767.9,344)--(778,342)--(774.4,348.6)--cycle;
  \fill[arrowmark] (798,356.6)--(806.6,354.6)--(803.2,359.7)--cycle;
  \fill[arrowmark] (756.4,367.3)--(764.9,365.9)--(761.2,370.8)--cycle;
  \fill[arrowmark] (648.0,666)--(656.4,665.4)--(652.2,660.9)--cycle;
  \fill[arrowmark] (690.3,839.3)--(699.5,837.1)--(694.5,832.7)--cycle;
  \fill[arrowmark] (423.6,716.8)--(429.2,720.4)--(425.6,725.8)--cycle;
  \fill[arrowmark] (1142.4,483.8)--(1150.8,482.8)--(1146.6,478.8)--cycle;
  \fill[arrowmark] (1209.2,546.2)--(1216.4,544.2)--(1211.6,553.2)--cycle;

  % radius marks
  \node[tag] (r6a) at (570.3,498.9) {R6};
  \node[tag] (r8a) at (586.7,493.3) {R8};
  \node[tag] (r12a) at (606.5,541.6) {R12};
  \node[tag] (r12b) at (1083.7,385.2) {R12};
  \node[tag] (r7a) at (1155.8,500.6) {R7};
  \node[tag] (r7b) at (1143.2,519.5) {R7};
  \node[tag] (r6b) at (1126.8,506.4) {R6};
  \node[tag] (r8b) at (670.5,734.9) {R8};
  \node[tag] (r8c) at (679,754) {R8};
  \node[tag,rotate=72,text=linecol] (r10) at (1182.4,230.9) {R10};
  \node[tag,rotate=17] (firelanea) at (681.3,500.9) {隐形消防车道};
  \node[tag,rotate=17] (firelaneb) at (1020.2,390.2) {隐形消防车道};
\end{tikzpicture}
\end{document}
